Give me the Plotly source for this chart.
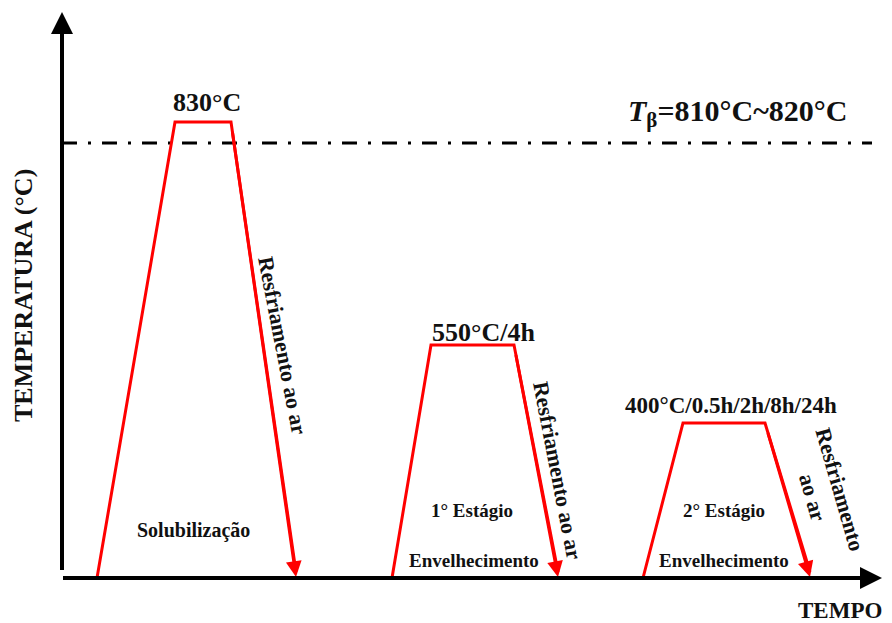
import plotly.graph_objects as go

# ---- schematic data (arbitrary time units / schematic temperature levels) ----
stage_names = ["Solubilização", "1° Estágio", "2° Estágio"]
stage_time = [
    [97, 175, 231, 296],
    [392, 431, 514, 558],
    [643, 683, 765, 810],
]
stage_level = [
    [0, 456, 456, 0],
    [0, 233, 233, 0],
    [0, 155, 155, 0],
]
peak_labels = ["830°C", "550°C/4h", "400°C/0.5h/2h/8h/24h"]
beta_level = 435
beta_label = "<i>T</i><sub>β</sub>=810°C~820°C"
cooling_label = "Resfriamento ao ar"
aging_label = "Envelhecimento"
x_title = "TEMPO"
y_title = "TEMPERATURA (°C)"

W, H = 892, 623
PAD = 8     # default page margin of the html body
BASE = 578  # pixel row of the time axis


def py(p):
    """page pixel row -> data y"""
    return BASE - p


FONT = "Liberation Serif, Times New Roman, serif"
RED = "#ff0000"

fig = go.Figure()

# Tβ dash-dot line
fig.add_trace(go.Scatter(
    x=[62, 872], y=[beta_level, beta_level], mode="lines",
    line=dict(color="black", width=3, dash="15px,11px,3px,11px"),
    hoverinfo="skip", showlegend=False))

# heat-treatment trapezoids
for t, lv in zip(stage_time, stage_level):
    fig.add_trace(go.Scatter(
        x=t[:3] + [t[3]], y=lv[:3] + [lv[3] + 6], mode="lines",
        line=dict(color=RED, width=3), hoverinfo="skip", showlegend=False))

ann = []
# arrowheads on cooling segments
for t, lv in zip(stage_time, stage_level):
    ann.append(dict(x=t[3], y=lv[3] + 1, ax=t[2], ay=lv[2], xref="x", yref="y",
                    axref="x", ayref="y", showarrow=True, arrowhead=2,
                    arrowsize=1.05, arrowwidth=3, arrowcolor=RED, standoff=0,
                    text=" "))

# axes with arrows
ann.append(dict(x=62, y=py(12), ax=62, ay=py(580), xref="x", yref="y",
                axref="x", ayref="y", showarrow=True, arrowhead=2,
                arrowsize=1.1, arrowwidth=4, arrowcolor="black", standoff=0, text=" "))
ann.append(dict(x=882, y=0, ax=60, ay=0, xref="x", yref="y",
                axref="x", ayref="y", showarrow=True, arrowhead=2,
                arrowsize=1.1, arrowwidth=4, arrowcolor="black", standoff=0, text=" "))


def txt(x, y, s, size, angle=0):
    ann.append(dict(x=x, y=y, xref="x", yref="y", text="<b>" + s + "</b>",
                    showarrow=False, textangle=angle, xanchor="center",
                    yanchor="middle", font=dict(family=FONT, size=size, color="#111111")))


peak_pos = [(207, 102, 26), (483, 332, 26), (731, 405, 23)]
for lab, (x, y, s) in zip(peak_labels, peak_pos):
    txt(x, py(y), lab, s)

txt(737, py(113), beta_label, 30)

txt(193, py(530), stage_names[0], 20)
txt(472, py(510), stage_names[1], 19)
txt(474, py(560), aging_label, 19)
txt(724, py(510), stage_names[2], 19)
txt(724, py(560), aging_label, 19)

txt(283, py(345), cooling_label, 22, 79)
txt(558, py(470), cooling_label, 22, 79)
txt(826, py(493), "Resfriamento<br>ao ar", 22, 74)

txt(23, py(296), y_title, 26, -90)
txt(840, py(610), x_title, 23)

fig.update_layout(
    width=W - PAD, height=H - PAD,
    margin=dict(l=0, r=0, t=0, b=0),
    paper_bgcolor="white", plot_bgcolor="white",
    xaxis=dict(range=[PAD, W], visible=False, fixedrange=True),
    yaxis=dict(range=[py(H), py(PAD)], visible=False, fixedrange=True),
    annotations=ann,
    showlegend=False,
)

fig.write_html("out.html", config={"displayModeBar": False})
